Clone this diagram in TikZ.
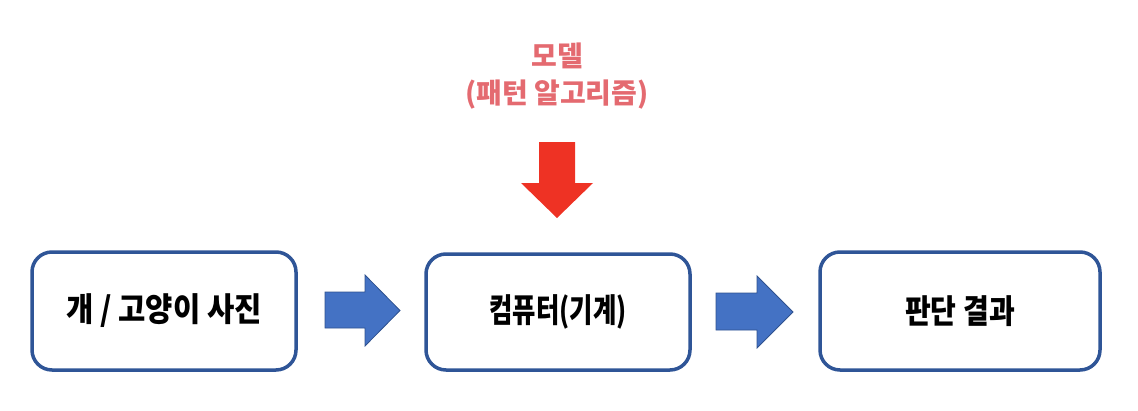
\documentclass[tikz,border=0pt]{standalone}
\usepackage{fontspec}
\usepackage{graphicx}
\newfontfamily\kr{Noto Sans CJK KR}[BoldFont={Noto Sans CJK KR Black}]
\definecolor{boxline}{RGB}{47,85,151}
\definecolor{arrowblue}{RGB}{68,114,196}
\definecolor{arrowblueline}{RGB}{47,82,143}
\definecolor{arrowred}{RGB}{238,50,36}
\definecolor{modeltext}{RGB}{228,106,112}
\newcommand{\narrowtext}[2]{\scalebox{#1}[1]{#2}}
\tikzset{
  stagebox/.style={draw=boxline, line width=3.5pt, rounded corners=20pt, fill=white,
    inner sep=0pt, font=\kr\bfseries\fontsize{33}{35}\selectfont},
  blockarrow/.style={fill=arrowblue, draw=arrowblueline, line width=0.8pt},
  redarrow/.style={fill=arrowred, draw=none},
}
\begin{document}
\begin{tikzpicture}[x=1pt,y=-1pt]
\path[use as bounding box] (0,0) rectangle (1138,410);
\node[stagebox, minimum width=264pt, minimum height=118pt] (input) at (164,311) {\narrowtext{0.9}{개 / 고양이 사진}};
\node[stagebox, minimum width=264pt, minimum height=116pt] (computer) at (558,312) {\narrowtext{0.77}{컴퓨터(기계)}};
\node[stagebox, minimum width=280pt, minimum height=118pt] (result) at (960,311) {\narrowtext{0.85}{판단 결과}};
\node[font=\kr\bfseries\fontsize{28}{37}\selectfont, text=modeltext, align=center] (model) at (557,76) {모델\\(패턴 알고리즘)};
% blue arrows
\draw[blockarrow] (325,292) -- (365,292) -- (365,275) -- (400,310.5) -- (365,346) -- (365,328) -- (325,328) -- cycle;
\draw[blockarrow] (716,293) -- (757,293) -- (757,276) -- (793,312) -- (757,348) -- (757,330) -- (716,330) -- cycle;
% red arrow
\fill[redarrow] (539,142) -- (575,142) -- (575,183) -- (593,183) -- (557,218) -- (521,183) -- (539,183) -- cycle;
\end{tikzpicture}
\end{document}
